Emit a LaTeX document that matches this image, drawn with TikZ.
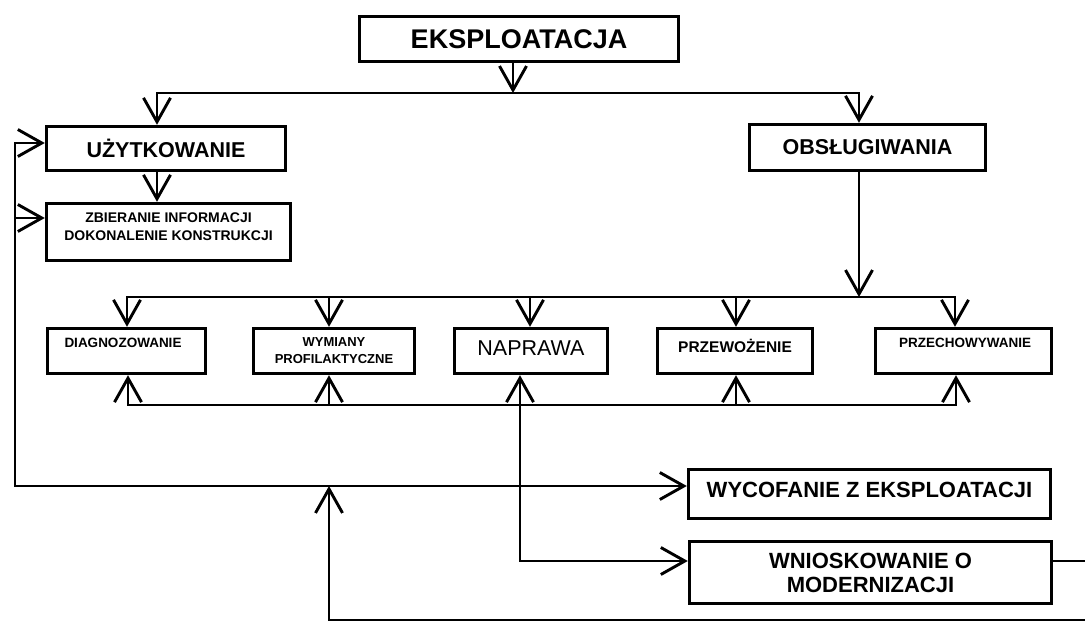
\documentclass[tikz,border=0pt]{standalone}
\usepackage{fontspec}
\setmainfont{Liberation Sans}
\usetikzlibrary{arrows.meta}
\begin{document}
\begin{tikzpicture}[x=1pt,y=-1pt,
  box/.style={draw, line width=3.4pt, inner sep=0pt},
  conn/.style={line width=2.9pt},
  arr/.style={conn, -{Straight Barb[length=24pt,width=27pt]}},
  dbl/.style={conn, {Straight Barb[length=24pt,width=27pt]}-{Straight Barb[length=24pt,width=27pt]}},
  fxl/.style={font=\fontsize{27}{30}\selectfont\bfseries},
  fl/.style={font=\fontsize{21.5}{24}\selectfont\bfseries},
  flr/.style={font=\fontsize{21.5}{24}\selectfont},
  fw/.style={font=\fontsize{22}{24}\selectfont\bfseries},
  fm/.style={font=\fontsize{15.5}{18}\selectfont\bfseries},
  fs/.style={font=\fontsize{13.5}{17}\selectfont\bfseries},
  fs2/.style={font=\fontsize{13}{17}\selectfont\bfseries},
  fzb/.style={font=\fontsize{14}{18}\selectfont\bfseries},
]
\fill[white] (0,0) rectangle (1085,621);
\clip (0,0) rectangle (1085,621);

% boxes
\node[box, minimum width=319pt, minimum height=45pt, fxl] (eks) at (519,39) {EKSPLOATACJA};
\node[box, minimum width=239pt, minimum height=44pt, fl] (uz) at (166,148.5) {UŻYTKOWANIE};
\node[box, minimum width=244pt, minimum height=57pt,
  label={[name=zb-t, fzb, align=center, yshift=5pt]center:ZBIERANIE INFORMACJI\\DOKONALENIE KONSTRUKCJI}] (zb) at (168.5,232) {};
\node[box, minimum width=236pt, minimum height=46pt, fl] (ob) at (867.5,147.5) {OBSŁUGIWANIA};

\node[box, minimum width=158pt, minimum height=45pt,
  label={[name=diag-t, fs, xshift=-3.5pt, yshift=8pt]center:DIAGNOZOWANIE}] (diag) at (126.5,351) {};
\node[box, minimum width=161pt, minimum height=45pt, fs2, align=center] (wym) at (334,351) {WYMIANY\\PROFILAKTYCZNE};
\node[box, minimum width=153pt, minimum height=45pt,
  label={[name=nap-t, flr, yshift=3pt]center:NAPRAWA}] (nap) at (531,351) {};
\node[box, minimum width=155pt, minimum height=45pt,
  label={[name=prw-t, fm, yshift=5pt]center:PRZEWOŻENIE}] (prw) at (735,351) {};
\node[box, minimum width=176pt, minimum height=45pt,
  label={[name=prc-t, fs, xshift=1.5pt, yshift=8pt]center:PRZECHOWYWANIE}] (prc) at (963.5,351) {};

\node[box, minimum width=362pt, minimum height=49pt,
  label={[name=wyc-t, fw, yshift=4pt]center:WYCOFANIE Z EKSPLOATACJI}] (wyc) at (869.5,494) {};
\node[box, minimum width=362pt, minimum height=62pt, fw, align=center] (wn) at (870.5,572.5) {WNIOSKOWANIE O\\MODERNIZACJI};

% junction points
\coordinate (b1) at (513,93);
\coordinate (b1l) at (157,93);
\coordinate (b1r) at (859,93);
\coordinate (b2) at (859,297);
\coordinate (t1) at (127,297);
\coordinate (t2) at (329,297);
\coordinate (t3) at (530,297);
\coordinate (t4) at (736,297);
\coordinate (t5) at (955,297);
\coordinate (u1) at (128,405);
\coordinate (u2) at (329,405);
\coordinate (u3) at (520,405);
\coordinate (u4) at (736,405);
\coordinate (u5) at (956,405);
\coordinate (nk) at (520,561);
\coordinate (l1) at (15,143);
\coordinate (l2) at (15,218);
\coordinate (l3) at (15,486);
\coordinate (m1) at (329,486);
\coordinate (m0) at (329,620);
\coordinate (r1) at (1100,561);
\coordinate (r2) at (1100,620);

% top level
\draw[arr] (eks.south -| b1) -- (b1);
\draw[dbl] (uz.north -| b1l) -- (b1l) -- (b1r) -- (ob.north -| b1r);
\draw[arr] (uz.south -| b1l) -- (zb.north -| b1l);
\draw[arr] (ob.south -| b2) -- (b2);

% upper distribution line
\draw[dbl] (diag.north -| t1) -- (t1) -- (t5) -- (prc.north -| t5);
\draw[arr] (t2) -- (wym.north -| t2);
\draw[arr] (t3) -- (nap.north -| t3);
\draw[arr] (t4) -- (prw.north -| t4);

% lower distribution line
\draw[dbl] (diag.south -| u1) -- (u1) -- (u5) -- (prc.south -| u5);
\draw[arr] (u2) -- (wym.south -| u2);
\draw[arr] (u4) -- (prw.south -| u4);
\draw[dbl] (nap.south -| u3) -- (nk) -- (wn.west |- nk);

% feedback loops
\draw[dbl] (uz.west |- l1) -- (l1) -- (l3) -- (wyc.west |- l3);
\draw[arr] (l2) -- (zb.west |- l2);
\draw[arr] (wn.east |- nk) -- (r1) -- (r2) -- (m0) -- (m1);
\end{tikzpicture}
\end{document}
